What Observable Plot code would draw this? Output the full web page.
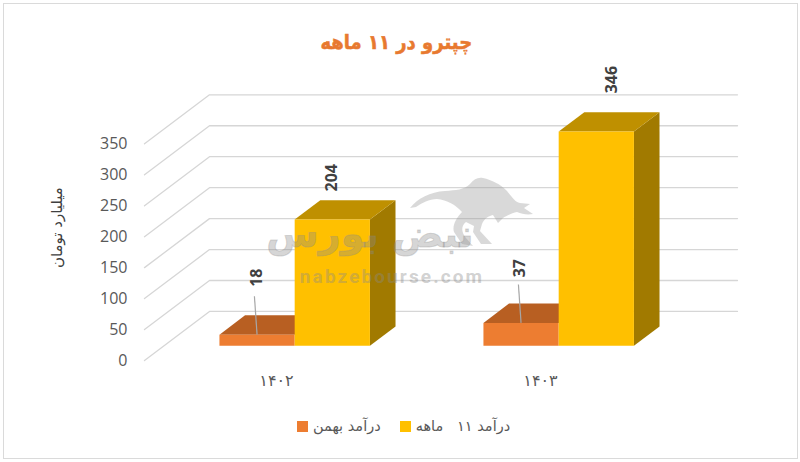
<!DOCTYPE html>
<html lang="fa">
<head>
<meta charset="utf-8">
<script src="https://cdn.jsdelivr.net/npm/d3@7"></script>
<script src="https://cdn.jsdelivr.net/npm/@observablehq/plot@0.6"></script>
<style>
  html, body { margin: 0; padding: 0; background: #fff; width: 800px; height: 462px; overflow: hidden; }
  body { position: relative; font-family: "DejaVu Sans", sans-serif; }
  #title { height: 60px; box-sizing: border-box; padding-top: 27px; padding-right: 8px; text-align: center; }
  #title b { display: inline-block; transform: scaleX(0.9); font: bold 20px/30px "DejaVu Sans", sans-serif;
             color: #E8792F; direction: rtl; -webkit-text-stroke: 0.5px #E8792F; }
  #chart svg { display: block; }
  #legend { position: absolute; left: 297px; top: 417px; height: 18px; display: flex; align-items: center;
            font-size: 14.5px; color: #595959; }
  #legend i { display: inline-block; width: 11px; height: 11px; margin-right: 5px; }
  #legend span { direction: rtl; unicode-bidi: isolate; margin-right: 19px; white-space: pre; }
  #wm, #edge { position: absolute; left: 0; top: 0; pointer-events: none; }
  #edge { left: 3px; top: 3px; width: 795px; height: 456px; border: 1px solid #DADADA; box-sizing: border-box; }
</style>
</head>
<body>
<div id="title"><b></b></div>
<div id="chart"></div>
<div id="legend"></div>
<div id="edge"></div>
<svg id="wm" width="800" height="462">
  <path fill="#9a9a9a" fill-opacity="0.38" d="M410 208C418 198 430 192 445 191C456 190 464 190 470 184C474 179 478 177 483 178C492 180 500 184 507 191C512 197 515 202 520 203L530 204L524 208L533 214C527 215 522 214 517 212C512 213 506 216 503 218L498 223L493 215C488 216 484 219 482 224L480 231L492 244L481 244L473 232L474 226L466 222C461 226 461 232 466 238L473 246L462 244L454 232C452 226 456 218 462 212C456 205 447 200 437 199C429 199 422 203 416 207Z"/>
  <text x="370" y="247" text-anchor="middle" font-family="DejaVu Sans" font-weight="bold" font-size="38" stroke="#8a8a8a" stroke-opacity="0.3" stroke-width="1" fill="#8a8a8a" fill-opacity="0.34" direction="rtl">نبض بورس</text>
  <text x="392" y="283" text-anchor="middle" font-family="Roboto" font-weight="bold" font-size="19" letter-spacing="2.1" fill="#8a8a8a" fill-opacity="0.4">nabzebourse.com</text>
</svg>
<script>
const titleText = "چپترو در ۱۱ ماهه";
const yAxisTitle = "میلیارد تومان";
const years = ["۱۴۰۲", "۱۴۰۳"];
const seriesNames = ["درآمد بهمن", "درآمد ۱۱   ماهه"];
const bahman = [18, 37];
const elevenMonths = [204, 346];
const yTicks = [0, 50, 100, 150, 200, 250, 300, 350];

const seriesColors = [
  {front: "#ED7D31", top: "#B85F22"},
  {front: "#FFC000", top: "#BF9000", side: "#A17A00"}
];

// Oblique projection of the 3-D box: depth 0 is the floor's front edge, 1 the back wall.
const K = 0.2462, M = 79.2;             // shift per unit of depth, in x units and value units
const D0 = 0.30, D1 = 0.694, W = 0.285; // bar's depth extent and width
const SHIFT = -0.005;                   // bars sit slightly left of the category centre
const at = (u, v, d) => ({x: u + d * K, y: v + d * M});

const polys = [];
function face(id, fill, corners) {
  corners.forEach(([u, v, d]) => polys.push({...at(u, v, d), id, fill}));
}
[bahman, elevenMonths].forEach((values, s) => {
  values.forEach((v, i) => {
    const u0 = i + 0.5 + SHIFT + (s - 1) * W, u1 = u0 + W, c = seriesColors[s], id = `${s}-${i}`;
    if (c.side) face(id + "side", c.side, [[u1, 0, D0], [u1, 0, D1], [u1, v, D1], [u1, v, D0]]);
    face(id + "top", c.top, [[u0, v, D0], [u1, v, D0], [u1, v, D1], [u0, v, D1]]);
    face(id + "front", c.front, [[u0, 0, D0], [u1, 0, D0], [u1, v, D0], [u0, v, D0]]);
  });
});
const polysOf = s => polys.filter(p => p.id.startsWith(s + "-"));

const grid = yTicks.flatMap(v => [at(0, v, 0), at(0, v, 1), at(2, v, 1)].map(p => ({...p, v})));

const barLabel = (s, i) => {
  const v = [bahman, elevenMonths][s][i];
  return {...at(i + 0.5 + SHIFT + (s - 0.5) * W, v, D0), v};
};
const labelOffsets = [
  [[-0.4, -57], [-1.4, -54.7]],
  [[-0.6, -41.7], [15.4, -52]]
];
const labelMarks = [0, 1].flatMap(s => [0, 1].map(i => Plot.text([barLabel(s, i)], {
  x: "x", y: "y", text: d => String(d.v), rotate: -90,
  dx: labelOffsets[s][i][0], dy: labelOffsets[s][i][1],
  fontSize: 16, fontWeight: 700, fill: "#404040"
})));
const leaderMarks = [0, 1].map(i => {
  const p = barLabel(0, i);
  return Plot.link([p], {
    x1: "x", y1: "y", x2: d => d.x - 0.01, y2: d => d.y + 62,
    stroke: "#A6A6A6", strokeWidth: 1.2
  });
});

const chart = Plot.plot({
  width: 800, height: 340,
  marginLeft: 144, marginRight: 63, marginTop: 34.3, marginBottom: 40,
  style: {fontFamily: "'Open Sans', 'DejaVu Sans', sans-serif", background: "transparent"},
  x: {domain: [0, 2 + K]},
  y: {domain: [0, 350 + M]},
  color: {type: "identity"},
  marks: [
    Plot.line(grid, {x: "x", y: "y", z: "v", stroke: "#D6D6D6", strokeWidth: 1.3}),
    Plot.axisY({ticks: yTicks, tickSize: 0, tickPadding: 17, label: null, fontSize: 16, fill: "#595959"}),
    Plot.axisX({
      ticks: [0.5, 1.5], tickSize: 0, tickPadding: 14, label: null,
      tickFormat: t => years[Math.floor(t)], fontSize: 16, fill: "#595959",
      fontFamily: "DejaVu Sans"
    }),
    Plot.text([yAxisTitle], {
      frameAnchor: "left", textAnchor: "middle", dx: -87, rotate: -90, fontSize: 15, fill: "#404040",
      fontFamily: "DejaVu Sans"
    }),
    Plot.line(polysOf(0), {x: "x", y: "y", z: "id", fill: "fill", stroke: "none"}),
    Plot.line(polysOf(1), {x: "x", y: "y", z: "id", fill: "fill", stroke: "none"}),
    ...leaderMarks,
    ...labelMarks
  ]
});
document.getElementById("chart").append(chart);
document.querySelector("#title b").textContent = titleText;
const legend = document.getElementById("legend");
seriesNames.forEach((name, s) => {
  const sw = document.createElement("i");
  sw.style.background = seriesColors[s].front;
  const t = document.createElement("span");
  t.textContent = name;
  legend.append(sw, t);
});
</script>
</body>
</html>
